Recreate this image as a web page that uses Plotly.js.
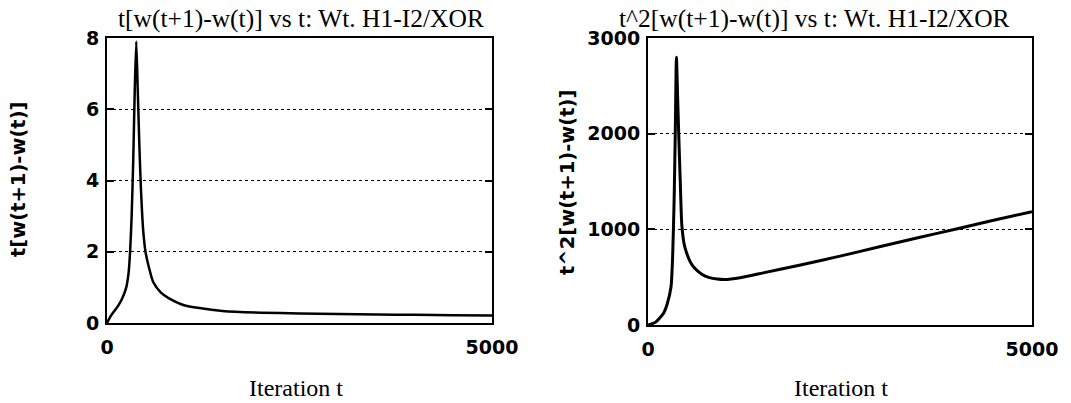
<!DOCTYPE html>
<html>
<head>
<meta charset="utf-8">
<script src="https://cdn.plot.ly/plotly-3.0.1.min.js"></script>
<style>html,body{margin:0;padding:0;background:#fff;}#chart{width:1071px;height:403px;}</style>
</head>
<body>
<div id="chart"></div>
<script>
// Left panel: t[w(t+1)-w(t)] vs iteration t
var tLeft = [0, 50, 100, 150, 200, 250, 280, 300, 320, 340, 360, 380, 400, 420, 440, 470, 500, 540, 600, 700, 800, 1000, 1200, 1500, 2000, 2500, 3000, 3500, 4000, 4500, 5000];
var vLeft = [0, 0.2, 0.35, 0.5, 0.7, 1.0, 1.4, 2.0, 3.0, 4.5, 6.5, 7.9, 6.5, 5.0, 3.8, 2.6, 2.0, 1.6, 1.15, 0.85, 0.7, 0.5, 0.42, 0.34, 0.29, 0.27, 0.25, 0.24, 0.23, 0.22, 0.21];

// Right panel: t^2[w(t+1)-w(t)] vs iteration t
var tRight = [0, 100, 200, 250, 300, 320, 340, 355, 370, 385, 400, 420, 440, 470, 500, 550, 600, 700, 800, 900, 1000, 1200, 1500, 2000, 2500, 3000, 3500, 4000, 4500, 5000];
var vRight = [0, 30, 120, 220, 400, 700, 1300, 2000, 2800, 2400, 2000, 1500, 1050, 850, 760, 660, 600, 530, 495, 480, 475, 495, 545, 630, 720, 815, 910, 1000, 1095, 1185];

var leftTicks = [0, 2, 4, 6, 8];
var rightTicks = [0, 1000, 2000, 3000];
var xTicks = [0, 5000];

var titleLeft = 't[w(t+1)-w(t)] vs t: Wt. H1-I2/XOR';
var titleRight = 't^2[w(t+1)-w(t)] vs t: Wt. H1-I2/XOR';
var yTitleLeft = 't[w(t+1)-w(t)]';
var yTitleRight = 't^2[w(t+1)-w(t)]';
var xTitle = 'Iteration t';

var W = 1071, H = 403;
function px(x) { return x / W; }
function py(y) { return 1 - y / H; }

var tickFont = {family: 'DejaVu Sans', size: 19, color: '#000', weight: 'bold'};
var serif = 'Liberation Serif';

var traces = [
  {x: tLeft, y: vLeft, xaxis: 'x', yaxis: 'y', mode: 'lines', line: {color: '#000', width: 2.5, shape: 'spline', smoothing: 0.6}, hoverinfo: 'skip'},
  {x: tRight, y: vRight, xaxis: 'x2', yaxis: 'y2', mode: 'lines', line: {color: '#000', width: 3, shape: 'spline', smoothing: 0.6}, hoverinfo: 'skip'}
];

function xAxis(dom, anchor) {
  return {domain: dom, anchor: anchor, range: [0, 5000], tickvals: xTicks, ticktext: xTicks.map(String),
    showgrid: false, zeroline: false, showline: true, linecolor: '#000', linewidth: 2, mirror: true,
    ticks: '', tickfont: tickFont, ticklabelstandoff: 6};
}
function yAxis(dom, anchor, range, ticks) {
  return {domain: dom, anchor: anchor, range: range, tickvals: ticks, ticktext: ticks.map(String),
    showgrid: true, gridcolor: '#000', gridwidth: 1, griddash: 'dot', zeroline: false,
    showline: true, linecolor: '#000', linewidth: 2, mirror: 'ticks',
    ticks: 'inside', ticklen: 7, tickwidth: 2, tickcolor: '#000', tickfont: tickFont, ticklabelstandoff: 2};
}

var titleFont = {family: serif, size: 25.5, color: '#000'};
var xTitleFont = {family: serif, size: 24, color: '#000'};
var yTitleFont = {family: 'DejaVu Sans', size: 19.5, color: '#000', weight: 'bold'};

var layout = {
  width: W, height: H,
  margin: {l: 0, r: 0, t: 0, b: 0},
  paper_bgcolor: '#fff', plot_bgcolor: '#fff',
  showlegend: false,
  xaxis: xAxis([px(107), px(492)], 'y'),
  yaxis: yAxis([py(323), py(38)], 'x', [0, 8], leftTicks),
  xaxis2: xAxis([px(648), px(1032)], 'y2'),
  yaxis2: yAxis([py(325), py(38)], 'x2', [0, 3000], rightTicks),
  annotations: [
    {text: titleLeft, xref: 'paper', yref: 'paper', x: px(116), y: py(35), xanchor: 'left', yanchor: 'bottom', showarrow: false, font: titleFont},
    {text: titleRight, xref: 'paper', yref: 'paper', x: px(617), y: py(35), xanchor: 'left', yanchor: 'bottom', showarrow: false, font: titleFont},
    {text: yTitleLeft, xref: 'paper', yref: 'paper', x: px(18), y: py(180), xanchor: 'center', yanchor: 'middle', textangle: -90, showarrow: false, font: yTitleFont},
    {text: yTitleRight, xref: 'paper', yref: 'paper', x: px(568), y: py(183), xanchor: 'center', yanchor: 'middle', textangle: -90, showarrow: false, font: yTitleFont},
    {text: xTitle, xref: 'paper', yref: 'paper', x: px(296), y: py(388), xanchor: 'center', yanchor: 'middle', showarrow: false, font: xTitleFont},
    {text: xTitle, xref: 'paper', yref: 'paper', x: px(841), y: py(388), xanchor: 'center', yanchor: 'middle', showarrow: false, font: xTitleFont}
  ]
};

Plotly.newPlot('chart', traces, layout, {staticPlot: true, displayModeBar: false});
</script>
</body>
</html>
